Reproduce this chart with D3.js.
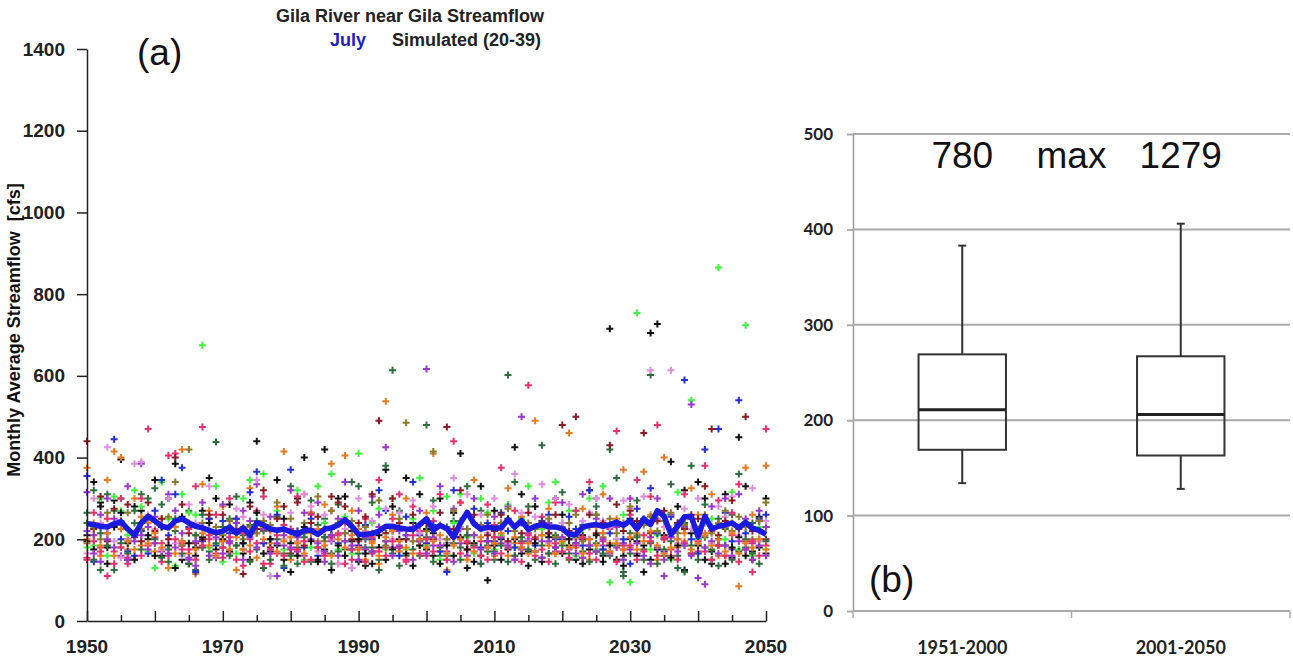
<!DOCTYPE html>
<html><head><meta charset="utf-8">
<script src="https://cdn.jsdelivr.net/npm/d3@7"></script>
<style>body{margin:0;background:#fff}svg{display:block}text{white-space:pre}</style>
</head><body><svg id="c" width="1293" height="662"></svg>
<script>
// ---------- DATA ----------
const years = d3.range(1950, 2051);
const xTickLabels = [1950, 1970, 1990, 2010, 2030, 2050];
const yTicksA = [0, 200, 400, 600, 800, 1000, 1200, 1400];
const seriesColors = ["#111111", "#2e6e3c", "#3cf53c", "#e87a22", "#e8306c", "#9a38cc", "#2230d8", "#e08ce0", "#8a1c24", "#8c7a2c",
                      "#111111", "#2e6e3c", "#e8306c", "#9a38cc", "#e87a22"];
const sBlack = [195,340,290,180,295,395,150,280,270,210, 345,160,300,385,150,140,180,270,350,300, 195,285,240,165,290,440,130,170,345,250, 120,300,400,265,145,420,125,300,305,195, 145,135,170,210,370,280,180,350,240,310, 225,160,300,190,265,410,130,190,330,100, 270,200,250,425,310,170,280,145,215,300, 260,185,150,210,320,170,145,715,240,160, 250,195,120,705,727,200,390,280,320,215, 340,300,140,185,310,155,450,330,170,255, 300];
const sDarkGreen = [240,320,125,310,270,300,200,270,310,250, 325,285,145,220,195,270,125,260,170,438, 180,250,305,175,235,245,130,200,255,165, 330,140,205,295,235,250,165,285,175,340, 330,180,290,125,380,614,270,160,225,200, 480,295,160,230,245,180,330,210,270,185, 150,230,602,340,205,280,170,430,240,210, 315,165,270,235,185,280,215,420,350,120, 215,295,175,602,250,160,335,130,240,380, 200,285,150,250,225,260,360,180,240,200, 230];
const sGreen = [180,185,300,160,305,270,210,320,280,170, 130,340,250,135,310,265,260,675,180,330, 145,225,165,300,345,235,360,110,270,175, 205,320,150,180,330,240,360,175,255,165, 410,145,240,275,175,300,225,175,250,350, 185,270,150,305,240,310,205,165,300,265, 175,210,285,180,250,330,170,225,290,340, 190,270,160,225,300,175,330,95,200,260, 95,754,240,175,210,260,150,315,185,540, 200,180,250,865,200,315,175,724,160,230, 175];
const sOrange = [375,210,160,345,415,400,175,300,185,240, 170,250,130,230,420,165,115,335,270,220, 280,195,125,175,325,215,230,190,280,415, 150,220,310,265,195,285,385,140,405,270, 225,150,195,140,538,260,170,300,230,185, 265,410,170,125,215,290,160,345,225,230, 160,240,325,190,255,165,490,235,275,165, 240,460,180,275,150,230,310,190,250,370, 180,215,365,260,150,400,225,180,195,325, 260,215,310,160,230,240,85,375,260,200, 380];
const sCrimson = [155,265,180,110,170,300,140,215,300,470, 205,145,405,410,190,175,330,475,200,260, 155,300,250,135,200,270,305,140,165,235, 175,305,145,260,215,165,270,210,240,150, 195,250,165,345,180,250,310,145,280,220, 160,245,310,200,440,290,175,240,195,285, 235,375,190,270,145,577,205,255,165,290, 230,200,270,155,340,300,175,225,465,185, 260,345,210,305,480,200,160,240,310,250, 170,380,220,295,160,265,335,195,120,220, 470];
const sViolet = [315,210,145,300,250,160,330,215,385,230, 255,170,310,270,185,155,135,290,250,155, 285,190,225,270,245,335,190,255,110,185, 320,170,265,200,290,145,195,250,340,130, 270,175,305,260,425,180,220,200,230,270, 617,185,330,150,275,225,210,300,140,180, 255,190,280,160,500,215,300,195,240,170, 290,215,165,310,200,250,185,300,230,190, 300,165,240,205,300,110,260,200,230,530, 215,90,280,240,300,175,310,250,190,270, 230];
const sBlue = [355,145,230,215,445,200,170,160,220,165, 270,345,210,310,375,230,120,195,250,185, 245,215,250,190,315,365,190,225,260,130, 370,220,180,250,160,205,225,190,215,175, 185,235,200,320,270,220,160,255,340,210, 190,235,170,120,320,200,225,275,180,240, 195,265,220,180,240,200,185,245,260,200, 200,255,225,185,320,260,175,215,240,200, 140,275,250,325,215,170,255,235,590,200, 165,420,230,470,265,195,540,215,230,250, 260];
const sPlum = [165,300,240,425,195,155,200,385,390,260, 225,175,300,190,160,285,240,180,330,200, 230,165,275,255,215,345,260,110,220,200, 265,195,310,280,170,260,200,140,225,130, 300,220,245,170,275,200,265,150,295,215, 250,280,200,190,350,230,310,170,260,215, 300,225,190,360,265,200,255,335,190,300, 240,285,200,245,265,300,245,230,200,295, 275,190,305,614,250,230,614,190,275,225, 300,240,190,280,255,305,210,240,325,195, 245];
const sDarkRed = [440,225,305,195,275,245,285,205,195,290, 220,250,200,400,285,215,190,200,260,215, 260,230,220,115,280,225,320,180,250,280, 165,290,185,240,255,225,305,290,280,200, 240,255,310,490,215,300,240,200,260,195, 240,200,265,475,225,320,190,260,230,210, 220,260,195,230,215,265,200,240,215,260, 480,220,500,200,260,215,240,430,285,220, 270,245,460,215,245,270,205,240,225,260, 250,330,470,210,245,295,225,500,220,245, 200];
const sOlive = [190,230,200,265,235,180,265,215,225,255, 190,230,255,340,185,420,210,240,220,230, 210,245,185,200,230,215,245,235,290,220, 250,210,240,225,305,195,270,240,215,245, 200,230,215,295,185,225,250,485,195,235, 220,415,235,200,270,245,225,185,235,260, 205,240,275,220,180,240,225,210,250,205, 225,240,260,195,230,260,205,250,215,240, 280,210,235,255,220,245,265,215,235,250, 225,260,215,240,270,220,255,230,200,245, 290];
const sBlack2 = [210,175,280,140,230,265,190,150,240,200, 160,230,185,130,255,190,160,205,240,175, 200,170,215,190,150,265,165,200,185,150, 190,160,230,195,150,175,210,185,160,220, 200,165,140,180,150,175,200,165,135,185, 175,215,140,185,160,205,175,145,160,195, 185,150,175,200,165,135,190,155,205,180, 165,200,190,140,175,210,160,185,150,135, 200,160,185,150,175,210,155,185,125,165, 185,150,170,200,140,180,205,160,150,180, 165];
const sDarkGreen2 = [265,150,215,185,125,190,165,240,175,300, 200,155,175,250,165,140,210,180,150,190, 230,160,185,210,145,175,220,150,200,135, 160,180,215,145,180,205,140,170,195,230, 165,200,180,150,195,165,135,210,175,160, 205,145,180,160,190,150,210,185,140,170, 170,185,145,160,195,175,150,185,165,140, 185,150,205,170,145,190,165,160,185,110, 165,205,150,190,140,175,195,160,120,185, 150,205,175,135,185,150,170,200,165,140, 195];
const sCrimson2 = [150,195,170,250,140,180,155,210,160,185, 245,190,160,200,175,225,150,185,210,165, 180,205,150,215,170,190,140,175,210,160, 225,175,195,150,180,160,205,215,140,175, 180,145,205,170,160,195,180,150,210,165, 200,170,185,150,205,165,195,180,160,150, 205,165,180,150,190,210,160,175,145,190, 170,155,185,205,165,150,195,170,145,175, 185,150,170,195,160,205,175,150,190,165, 195,170,150,185,160,210,145,175,195,160, 185];
const sViolet2 = [220,165,260,200,180,235,150,195,210,175, 190,235,165,180,215,150,195,230,160,205, 165,195,240,150,205,180,225,165,190,210, 180,205,160,225,190,170,210,160,195,185, 150,205,170,230,195,160,185,210,150,195, 165,205,185,170,145,190,160,210,175,195, 165,205,185,150,175,195,170,155,195,180, 205,175,190,155,185,170,200,165,180,150, 175,190,160,140,180,150,205,170,185,160, 105,180,195,165,185,160,195,175,150,185, 160];
const sOrange2 = [200,240,185,215,160,225,195,175,255,190, 215,180,230,165,195,240,175,215,185,160, 195,175,205,230,185,155,200,220,170,195, 205,190,165,215,225,185,160,200,180,210, 175,215,190,160,205,220,195,180,165,200, 180,195,210,165,185,200,150,170,205,180, 190,215,160,205,180,190,170,210,185,165, 195,180,210,165,200,185,215,170,190,175, 205,175,195,220,185,165,180,200,215,175, 190,210,185,200,170,215,165,190,180,200, 175];
const meanLine = [238,236,232,230,238,243,225,210,240,256, 245,232,228,245,250,240,232,228,222,216, 220,230,215,228,210,240,235,225,222,225, 218,212,222,222,212,225,228,235,248,232, 212,212,214,220,232,232,228,225,224,236, 250,222,234,226,205,240,266,238,225,230, 227,228,248,230,246,224,232,236,230,230, 226,212,212,230,234,236,232,236,242,234, 246,225,250,236,270,256,212,232,255,256, 206,256,225,232,235,240,228,242,226,222, 212];

const boxCats = ["1951-2000", "2001-2050"];
const boxMin = [134, 128];
const boxQ1 = [169, 163];
const boxMed = [211, 206];
const boxQ3 = [269, 267];
const boxMax = [383, 406];
const maxLabels = ["780", "max", "1279"];
const yTicksB = [0, 100, 200, 300, 400, 500];

const allSeries = [sBlack, sDarkGreen, sGreen, sOrange, sCrimson, sViolet, sBlue, sPlum, sDarkRed, sOlive,
                   sBlack2, sDarkGreen2, sCrimson2, sViolet2, sOrange2];

// ---------- CHART A ----------
const svg = d3.select("#c");
const A = {l: 87, r: 766, t: 49, b: 621};
const xA = d3.scaleLinear().domain([1950, 2050]).range([A.l, A.r]);
const yA = d3.scaleLinear().domain([0, 1400]).range([A.b, A.t]);
const fontA = "'Liberation Sans', Arial, sans-serif";

const pts = [];
allSeries.forEach((s, si) => s.forEach((v, i) => pts.push({x: years[i], y: v, c: seriesColors[si]})));
svg.append("g").selectAll("path").data(pts).join("path")
  .attr("d", d => `M${xA(d.x)-3.5},${yA(d.y)}h7M${xA(d.x)},${yA(d.y)-3.5}v7`)
  .attr("stroke", d => d.c).attr("stroke-width", 2).attr("fill", "none");

svg.append("path").datum(meanLine)
  .attr("d", d3.line().x((d, i) => xA(years[i])).y(d => yA(d)))
  .attr("fill", "none").attr("stroke", "#1a1ae0").attr("stroke-width", 5.5).attr("stroke-linejoin", "round");

const gy = svg.append("g").attr("transform", `translate(${A.l},0)`)
  .call(d3.axisLeft(yA).tickValues(yTicksA).tickSize(10).tickSizeOuter(0).tickPadding(12).tickFormat(d3.format("d")));
gy.select(".domain").attr("stroke", "#222").attr("stroke-width", 1.5);
gy.selectAll(".tick line").attr("stroke", "#222").attr("stroke-width", 1.5);
gy.selectAll("text").attr("font-family", fontA).attr("font-weight", "bold").attr("font-size", 19).attr("fill", "#222");

const gx = svg.append("g").attr("transform", `translate(0,${A.b})`)
  .call(d3.axisBottom(xA).tickValues(d3.range(1950, 2051, 5)).tickSize(0).tickSizeOuter(0).tickFormat(""));
gx.select(".domain").attr("stroke", "#222").attr("stroke-width", 1.5);
gx.selectAll(".tick line").attr("y2", d => d % 10 === 0 ? -10 : -6).attr("stroke", "#222").attr("stroke-width", 1.5);
svg.append("g").selectAll("text").data(xTickLabels).join("text")
  .attr("x", d => xA(d)).attr("y", 653).attr("text-anchor", "middle")
  .attr("font-family", fontA).attr("font-weight", "bold").attr("font-size", 19).attr("fill", "#222").text(d => d);

svg.append("text").attr("transform", "translate(20,330) rotate(-90)").attr("text-anchor", "middle")
  .attr("font-family", fontA).attr("font-weight", "bold").attr("font-size", 18).attr("fill", "#111")
  .text("Monthly Average Streamflow  [cfs]");

svg.append("text").attr("x", 410).attr("y", 22).attr("text-anchor", "middle")
  .attr("font-family", fontA).attr("font-weight", "bold").attr("font-size", 18).attr("fill", "#222")
  .text("Gila River near Gila Streamflow");
svg.append("text").attr("x", 330).attr("y", 46)
  .attr("font-family", fontA).attr("font-weight", "bold").attr("font-size", 18).attr("fill", "#2020c0").text("July");
svg.append("text").attr("x", 392).attr("y", 46)
  .attr("font-family", fontA).attr("font-weight", "bold").attr("font-size", 18).attr("fill", "#222").text("Simulated (20-39)");
svg.append("text").attr("x", 137).attr("y", 65).attr("font-family", fontA).attr("font-size", 37).attr("fill", "#111").text("(a)");

// ---------- CHART B ----------
const B = {l: 853, r: 1290, t: 134, b: 611};
const xB = d3.scaleBand().domain(boxCats).range([B.l, B.r]);
const yB = d3.scaleLinear().domain([0, 500]).range([B.b, B.t]);
const fontB = "Lato, 'Open Sans', sans-serif";

const gyB = svg.append("g").attr("transform", `translate(${B.l},0)`)
  .call(d3.axisLeft(yB).tickValues(yTicksB).tickSize(6).tickSizeOuter(0).tickPadding(14));
gyB.select(".domain").attr("stroke", "#999").attr("stroke-width", 1.5);
gyB.selectAll(".tick line").attr("stroke", "#aaa").attr("stroke-width", 2);
gyB.selectAll("text").attr("font-family", fontB).attr("font-weight", "bold").attr("font-size", 17).attr("fill", "#222");
svg.append("g").selectAll("line").data(yTicksB).join("line")
  .attr("x1", B.l).attr("x2", B.r).attr("y1", d => yB(d)).attr("y2", d => yB(d))
  .attr("stroke", "#aaa").attr("stroke-width", 2);
svg.append("g").selectAll("line").data([B.l, xB(boxCats[1]), B.r]).join("line")
  .attr("x1", d => d).attr("x2", d => d).attr("y1", B.b).attr("y2", B.b + 7)
  .attr("stroke", "#aaa").attr("stroke-width", 1.5);
svg.append("g").selectAll("text").data(boxCats).join("text")
  .attr("x", d => xB(d) + xB.bandwidth() / 2).attr("y", 654).attr("text-anchor", "middle")
  .attr("font-family", fontB).attr("font-weight", "bold").attr("font-size", 18).attr("fill", "#222").text(d => d);

const bw = xB.bandwidth() * 0.4;
const boxes = boxCats.map((c, i) => ({c, lo: boxMin[i], q1: boxQ1[i], med: boxMed[i], q3: boxQ3[i], hi: boxMax[i]}));
const gb = svg.append("g").selectAll("g").data(boxes).join("g")
  .attr("transform", d => `translate(${xB(d.c) + xB.bandwidth() / 2},0)`);
gb.append("line").attr("y1", d => yB(d.hi)).attr("y2", d => yB(d.q3)).attr("stroke", "#333").attr("stroke-width", 2);
gb.append("line").attr("y1", d => yB(d.lo)).attr("y2", d => yB(d.q1)).attr("stroke", "#333").attr("stroke-width", 2);
gb.append("line").attr("x1", -4).attr("x2", 4).attr("y1", d => yB(d.hi)).attr("y2", d => yB(d.hi)).attr("stroke", "#333").attr("stroke-width", 2);
gb.append("line").attr("x1", -4).attr("x2", 4).attr("y1", d => yB(d.lo)).attr("y2", d => yB(d.lo)).attr("stroke", "#333").attr("stroke-width", 2);
gb.append("rect").attr("x", -bw / 2).attr("width", bw).attr("y", d => yB(d.q3)).attr("height", d => yB(d.q1) - yB(d.q3))
  .attr("fill", "none").attr("stroke", "#333").attr("stroke-width", 2);
gb.append("line").attr("x1", -bw / 2).attr("x2", bw / 2).attr("y1", d => yB(d.med)).attr("y2", d => yB(d.med)).attr("stroke", "#222").attr("stroke-width", 3);

const labX = [xB(boxCats[0]) + xB.bandwidth() / 2, xB(boxCats[1]), xB(boxCats[1]) + xB.bandwidth() / 2];
svg.append("g").selectAll("text").data(maxLabels).join("text")
  .attr("x", (d, i) => labX[i]).attr("y", 168).attr("text-anchor", "middle")
  .attr("font-family", fontA).attr("font-size", 37).attr("fill", "#111").text(d => d);
svg.append("text").attr("x", 869).attr("y", 592).attr("font-family", fontA).attr("font-size", 37).attr("fill", "#111").text("(b)");
</script></body></html>
